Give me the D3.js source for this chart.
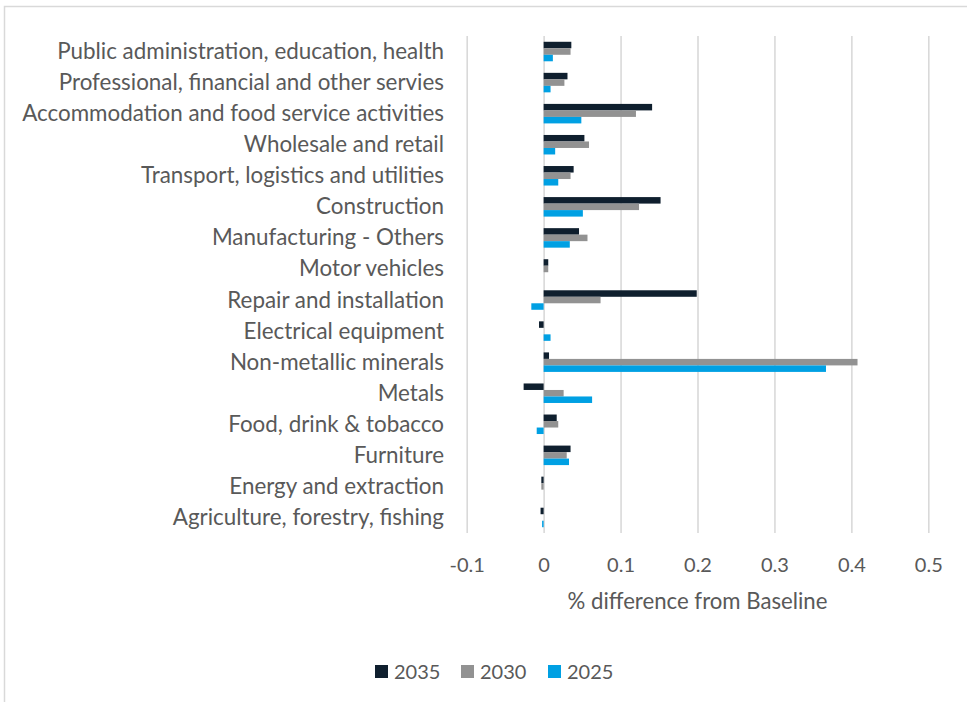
<!DOCTYPE html>
<html>
<head>
<meta charset="utf-8">
<script src="https://cdn.jsdelivr.net/npm/d3@7"></script>
<style>
  html, body { margin: 0; padding: 0; background: #fff; }
  svg { display: block; }
  text { font-family: Lato, "Open Sans", sans-serif; fill: #595959; }
</style>
</head>
<body>
<svg id="chart" width="967" height="702"></svg>
<script>
// Sectors, listed top to bottom
const categories = [
  "Public administration, education, health",
  "Professional, financial and other servies",
  "Accommodation and food service activities",
  "Wholesale and retail",
  "Transport, logistics and utilities",
  "Construction",
  "Manufacturing - Others",
  "Motor vehicles",
  "Repair and installation",
  "Electrical equipment",
  "Non-metallic minerals",
  "Metals",
  "Food, drink & tobacco",
  "Furniture",
  "Energy and extraction",
  "Agriculture, forestry, fishing"
];

const seriesNames = ["2035", "2030", "2025"];

const values2035 = [0.036, 0.031, 0.141, 0.053, 0.039, 0.152, 0.046, 0.006, 0.199, -0.006, 0.007, -0.026, 0.017, 0.035, -0.003, -0.004];
const values2030 = [0.035, 0.027, 0.120, 0.059, 0.035, 0.124, 0.057, 0.006, 0.074, 0, 0.408, 0.026, 0.019, 0.030, -0.003, 0];
const values2025 = [0.012, 0.009, 0.049, 0.015, 0.019, 0.051, 0.034, 0, -0.016, 0.009, 0.367, 0.063, -0.009, 0.033, 0, -0.002];

const xTicks = [-0.1, 0, 0.1, 0.2, 0.3, 0.4, 0.5];
const xTickLabels = ["-0.1", "0", "0.1", "0.2", "0.3", "0.4", "0.5"];
const axisTitle = "% difference from Baseline";

const seriesValues = { "2035": values2035, "2030": values2030, "2025": values2025 };
const colors = { "2035": "#0f1f2e", "2030": "#929292", "2025": "#00a0e3" };

const svg = d3.select("#chart");

// Chart frame
svg.append("rect")
  .attr("x", 4.5).attr("y", 6.5)
  .attr("width", 1000).attr("height", 1000)
  .attr("fill", "#fff")
  .attr("stroke", "#d9d9d9").attr("stroke-width", 1.5);

const plot = { left: 466.7, right: 928.3, top: 36, bottom: 533 };

const x = d3.scaleLinear().domain([-0.1, 0.5]).range([plot.left, plot.right]);

const y = d3.scaleBand()
  .domain(categories)
  .range([plot.top, plot.bottom])
  .paddingInner(0.372)
  .paddingOuter(0.186);

const ySub = d3.scaleBand()
  .domain(seriesNames)
  .range([0, y.bandwidth()]);

// Vertical gridlines and tick labels
const xAxis = d3.axisBottom(x)
  .tickValues(xTicks)
  .tickSize(-(plot.bottom - plot.top))
  .tickPadding(0)
  .tickFormat((d, i) => xTickLabels[i]);

const gx = svg.append("g")
  .attr("transform", `translate(0,${plot.bottom})`)
  .call(xAxis);
gx.select(".domain").remove();
gx.selectAll(".tick line").attr("stroke", "#d9d9d9").attr("stroke-width", 1.6);
gx.selectAll(".tick text")
  .attr("y", 39)
  .attr("dy", null)
  .attr("font-size", 20)
  .attr("fill", "#595959")
  .attr("font-family", "Lato, 'Open Sans', sans-serif");

// Bars
const rows = categories.map((c, i) => ({ c, i }));
const groups = svg.append("g").selectAll("g")
  .data(rows)
  .join("g")
  .attr("transform", d => `translate(0,${y(d.c)})`);

groups.selectAll("rect")
  .data(d => seriesNames.map(s => ({ s, v: seriesValues[s][d.i] })))
  .join("rect")
  .attr("x", d => x(Math.min(0, d.v)))
  .attr("y", d => ySub(d.s))
  .attr("width", d => Math.abs(x(d.v) - x(0)))
  .attr("height", ySub.bandwidth())
  .attr("fill", d => colors[d.s]);

// Category labels, sized so the longest one fits the label column
const labelRight = 444;
const labelG = svg.append("g");
const labels = labelG.selectAll("text")
  .data(categories)
  .join("text")
  .attr("x", labelRight)
  .attr("y", d => y(d) + y.bandwidth() / 2 + 7.5)
  .attr("text-anchor", "end")
  .attr("font-size", 20)
  .text(d => d);
const refNode = labels.filter(d => d === categories[0]).node();
const w20 = refNode.getComputedTextLength();
labels.attr("font-size", 20 * 387 / w20);

// Axis title
const title = svg.append("text")
  .attr("x", (plot.left + plot.right) / 2 + 0)
  .attr("y", 609)
  .attr("text-anchor", "middle")
  .attr("font-size", 19)
  .text(axisTitle);
const tw = title.node().getComputedTextLength();
title.attr("font-size", 19 * 260 / tw);

// Legend
const legendX = [375, 461, 548];
const legend = svg.append("g").selectAll("g")
  .data(seriesNames)
  .join("g")
  .attr("transform", (d, i) => `translate(${legendX[i]},0)`);
legend.append("rect")
  .attr("x", 0).attr("y", 665)
  .attr("width", 13).attr("height", 13)
  .attr("fill", d => colors[d]);
legend.append("text")
  .attr("x", 19).attr("y", 678.5)
  .attr("font-size", 20)
  .text(d => d);
</script>
</body>
</html>
